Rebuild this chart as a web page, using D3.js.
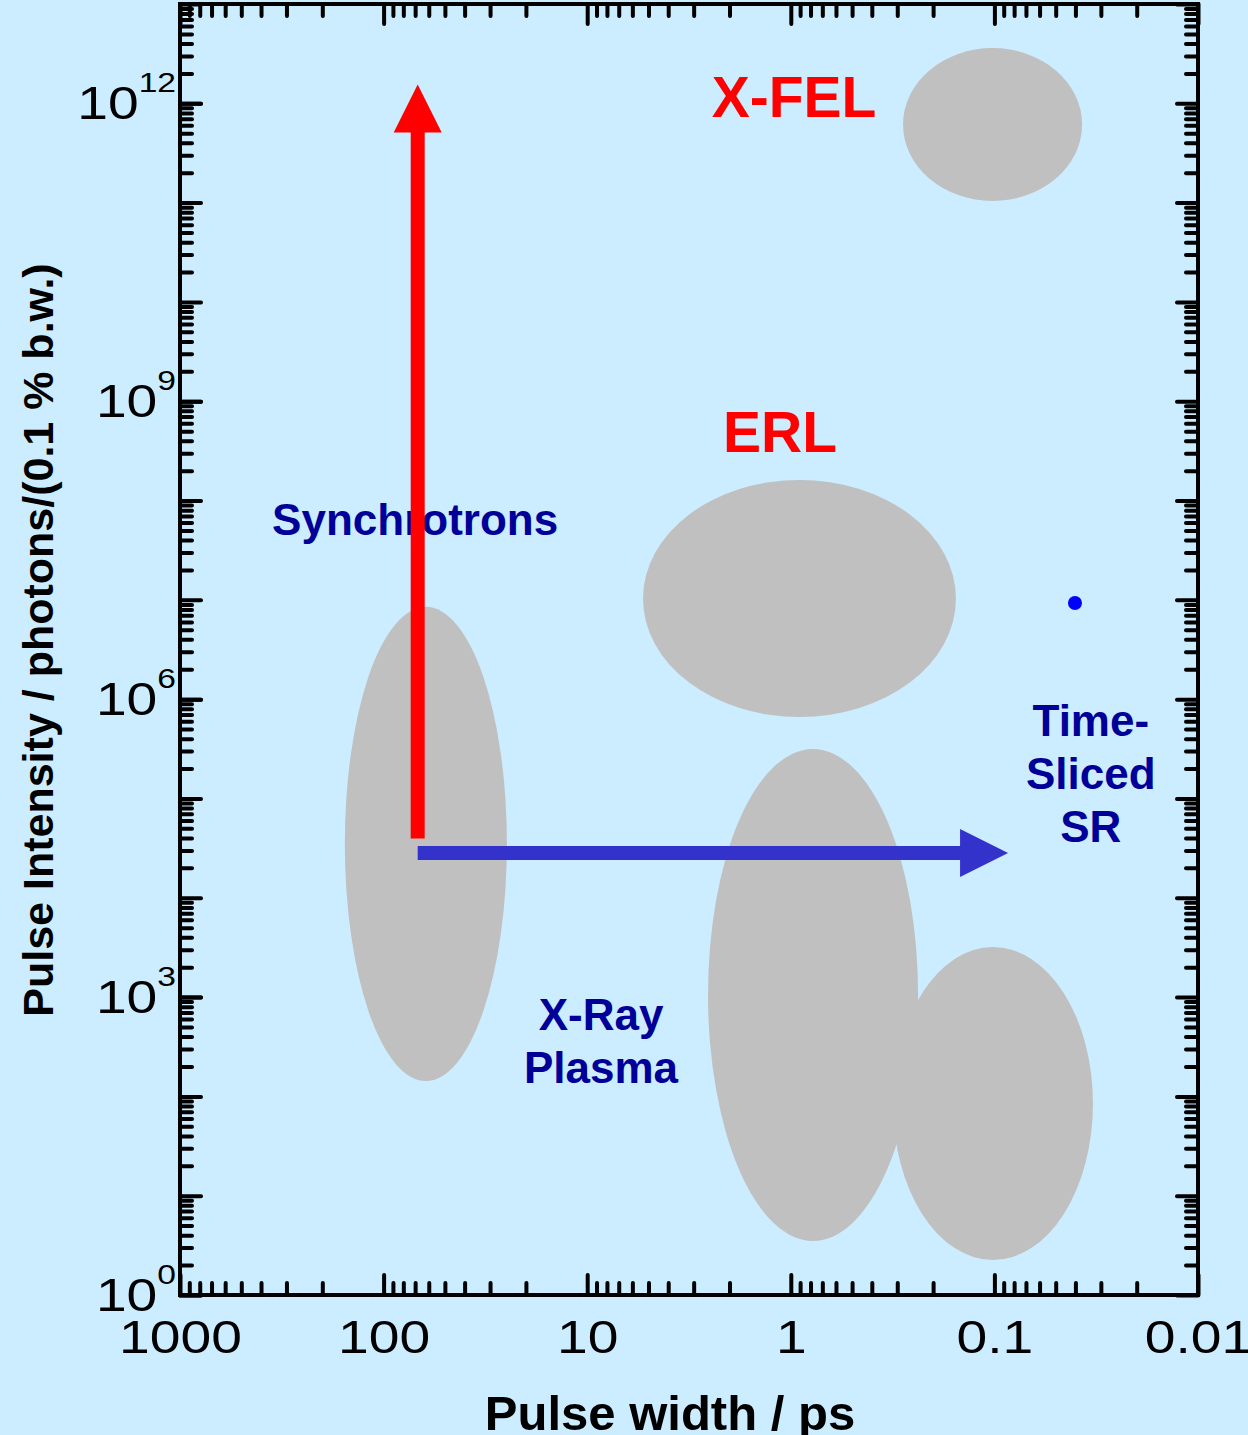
<!DOCTYPE html>
<html><head><meta charset="utf-8">
<script src="https://cdn.jsdelivr.net/npm/d3@7"></script>
<style>
html,body{margin:0;padding:0;background:#ccecff;}
svg{display:block;}
</style></head><body>
<svg id="chart" width="1248" height="1435"></svg>
<script>
// Axis ticks
const widthTicks = [1000, 100, 10, 1, 0.1, 0.01];
const widthTickLabels = ["1000", "100", "10", "1", "0.1", "0.01"];
const intensityTickExponents = [0, 3, 6, 9, 12];

// Source regions: pulse-width extent (ps) and pulse-intensity extent
const regionWidthRange = [[155, 24.8], [0.281, 0.0371], [5.32, 0.1545], [2.55, 0.237], [0.315, 0.0328]];
const regionIntensityRange = [[143, 8.5e6], [1.04e11, 3.6e12], [6.6e5, 1.61e8], [3.5, 3.15e5], [2.25, 3190]];

// Region labels
const labelLines = [["X-FEL"], ["ERL"], ["Synchrotrons"], ["Time-", "Sliced", "SR"], ["X-Ray", "Plasma"]];
const labelWidth = [0.964, 1.13, 70, 0.0336, 8.55];
const labelIntensity = [7.3e11, 3.1e8, 4.5e7, 4.3e5, 465];
const labelColor = ["#ff0000", "#ff0000", "#000099", "#000099", "#000099"];

// Time-sliced SR point
const slicedWidth = [0.0402];
const slicedIntensity = [9.3e6];

// Improvement arrows: intensity gain (red) and pulse shortening (blue)
const intensityArrowWidth = 68;
const intensityArrowRange = [3.96e4, 1.55e12];
const widthArrowIntensity = 2.82e4;
const widthArrowRange = [68, 0.0857];

const svg = d3.select("#chart");
const W = 1248, H = 1435;
const m = {left: 180, right: 1198, top: 4, bottom: 1295};
const FONT = "'Liberation Sans', Arial, sans-serif";
const WIDE = 1.2; // horizontal stretch of the numeric tick labels

svg.append("rect").attr("width", W).attr("height", H).attr("fill", "#ccecff");

const x = d3.scaleLog().domain([1000, 0.01]).range([m.left, m.right]);
const y = d3.scaleLog().domain([1, 1e13]).range([m.bottom, m.top]);

// Regions as ellipses in log-log space
const regions = regionWidthRange.map((wr, i) => ({wr, ir: regionIntensityRange[i]}));
svg.append("g").selectAll("ellipse").data(regions).join("ellipse")
  .attr("cx", d => (x(d.wr[0]) + x(d.wr[1])) / 2)
  .attr("cy", d => (y(d.ir[0]) + y(d.ir[1])) / 2)
  .attr("rx", d => Math.abs(x(d.wr[1]) - x(d.wr[0])) / 2)
  .attr("ry", d => Math.abs(y(d.ir[1]) - y(d.ir[0])) / 2)
  .attr("fill", "#c0c0c0");

// Labels
const labels = labelLines.map((lines, i) => ({lines, w: labelWidth[i], v: labelIntensity[i], c: labelColor[i], big: i < 2}));
const lg = svg.append("g").attr("font-family", FONT).attr("font-weight", "bold").attr("text-anchor", "middle");
labels.forEach(d => {
  const t = lg.append("text")
    .attr("x", x(d.w)).attr("y", y(d.v))
    .attr("fill", d.c)
    .attr("font-size", d.big ? 57 : 44);
  d.lines.forEach((s, k) => {
    t.append("tspan").attr("x", x(d.w)).attr("dy", k === 0 ? 0 : 53).text(s);
  });
});

// Time-sliced SR point
svg.append("g").selectAll("circle").data(slicedWidth).join("circle")
  .attr("cx", d => x(d)).attr("cy", (d, i) => y(slicedIntensity[i]))
  .attr("r", 7).attr("fill", "#0000ff");

// Arrows
const head = 48, half = 24, shaft = 14;
{
  const bx = x(widthArrowRange[0]), tx = x(widthArrowRange[1]), yy = y(widthArrowIntensity);
  svg.append("line").attr("x1", bx).attr("x2", tx - head + 1).attr("y1", yy).attr("y2", yy)
    .attr("stroke", "#3333cc").attr("stroke-width", shaft);
  svg.append("path").attr("d", `M${tx},${yy}L${tx - head},${yy - half}L${tx - head},${yy + half}Z`).attr("fill", "#3333cc");
}
{
  const xx = x(intensityArrowWidth), by = y(intensityArrowRange[0]), ty = y(intensityArrowRange[1]);
  svg.append("line").attr("x1", xx).attr("x2", xx).attr("y1", by).attr("y2", ty + head - 1)
    .attr("stroke", "#ff0000").attr("stroke-width", shaft);
  svg.append("path").attr("d", `M${xx},${ty}L${xx - half},${ty + head}L${xx + half},${ty + head}Z`).attr("fill", "#ff0000");
}

// Axes: inward ticks on all four sides
const minorW = [], minorI = [];
for (let e = -2; e < 3; e++) for (let k = 2; k <= 9; k++) minorW.push(k * Math.pow(10, e));
for (let e = 0; e < 13; e++) for (let k = 2; k <= 9; k++) minorI.push(k * Math.pow(10, e));
const majorI = d3.range(0, 14).map(e => Math.pow(10, e));

function styleAxis(g) {
  g.select(".domain").remove();
  g.selectAll(".tick line").attr("stroke", "#000").attr("stroke-width", 4).attr("stroke-linecap", "round");
}
const axes = svg.append("g");
axes.append("g").attr("transform", `translate(0,${m.bottom})`)
  .call(d3.axisBottom(x).tickValues(minorW).tickSize(-12).tickFormat("")).call(styleAxis);
axes.append("g").attr("transform", `translate(0,${m.top})`)
  .call(d3.axisTop(x).tickValues(minorW).tickSize(-12).tickFormat("")).call(styleAxis);
axes.append("g").attr("transform", `translate(0,${m.top})`)
  .call(d3.axisTop(x).tickValues(widthTicks).tickSize(-20).tickFormat("")).call(styleAxis);
axes.append("g").attr("transform", `translate(${m.left},0)`)
  .call(d3.axisLeft(y).tickValues(minorI).tickSize(-12).tickFormat("")).call(styleAxis);
axes.append("g").attr("transform", `translate(${m.right},0)`)
  .call(d3.axisRight(y).tickValues(minorI).tickSize(-12).tickFormat("")).call(styleAxis);
axes.append("g").attr("transform", `translate(${m.right},0)`)
  .call(d3.axisRight(y).tickValues(majorI).tickSize(-21).tickFormat("")).call(styleAxis);
axes.append("g").attr("transform", `translate(${m.left},0)`)
  .call(d3.axisLeft(y).tickValues(majorI).tickSize(-21).tickFormat("")).call(styleAxis);

// Bottom axis with labels
const xb = axes.append("g").attr("transform", `translate(0,${m.bottom})`)
  .call(d3.axisBottom(x).tickValues(widthTicks).tickSize(-20).tickFormat((d, i) => widthTickLabels[i]))
  .call(styleAxis);
xb.selectAll("text").attr("y", 58).attr("dy", null)
  .attr("font-family", FONT).attr("font-size", 46).attr("fill", "#000")
  .attr("transform", `scale(${WIDE},1)`);

// Left axis with power-of-ten labels
const yl = axes.append("g").attr("transform", `translate(${m.left},0)`)
  .call(d3.axisLeft(y).tickValues(intensityTickExponents.map(e => Math.pow(10, e))).tickSize(-21).tickFormat(""))
  .call(styleAxis);
yl.selectAll(".tick text").each(function(d) {
  const t = d3.select(this).attr("x", -4 / WIDE).attr("y", 15).attr("dy", null)
    .attr("text-anchor", "end").attr("fill", "#000")
    .attr("transform", `scale(${WIDE},1)`)
    .attr("font-family", FONT).attr("font-size", 46);
  t.append("tspan").text("10");
  t.append("tspan").attr("dy", -27).attr("font-size", 28).text(String(Math.round(Math.log10(d))));
});

// Frame
svg.append("rect").attr("x", m.left).attr("y", m.top)
  .attr("width", m.right - m.left).attr("height", m.bottom - m.top)
  .attr("fill", "none").attr("stroke", "#000").attr("stroke-width", 4);

// Axis titles
svg.append("text").attr("x", 670).attr("y", 1430).attr("text-anchor", "middle")
  .attr("font-family", FONT).attr("font-weight", "bold").attr("font-size", 49)
  .text("Pulse width / ps");
svg.append("text").attr("transform", "translate(53,640) rotate(-90)").attr("text-anchor", "middle")
  .attr("font-family", FONT).attr("font-weight", "bold").attr("font-size", 43)
  .text("Pulse Intensity / photons/(0.1 % b.w.)");
</script>
</body></html>
